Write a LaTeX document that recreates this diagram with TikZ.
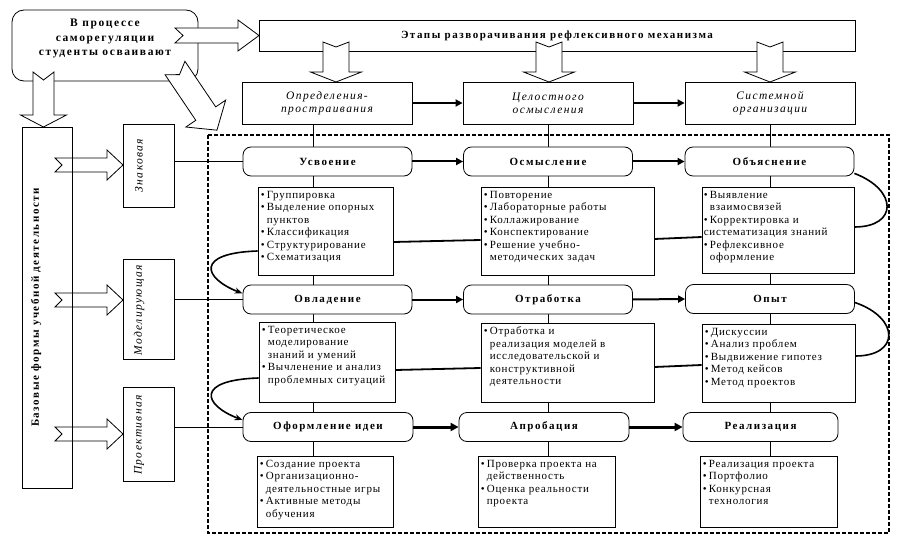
\documentclass[tikz,border=0pt]{standalone}
\usepackage{fontspec}
\setmainfont{Liberation Serif}
\newfontfamily\lstf[LetterSpace=7]{Liberation Serif}
\newfontfamily\hdrf[LetterSpace=14]{Liberation Serif}
\newfontfamily\itf[LetterSpace=12]{Liberation Serif}
\usetikzlibrary{arrows.meta,calc}
\pgfdeclarelayer{bg}
\pgfsetlayers{bg,main}
\newcommand\bl{\makebox[6pt][l]{\textbullet}}
\newcommand\ind{\hspace*{6pt}}
\newcommand\lsz{\fontsize{11pt}{12.5pt}\selectfont}
\tikzset{
  pics/barrow/.style n args={5}{code={
    \draw[fill=white,line width=0.8pt] (0,-#2) -- ({#1-#4},-#2) -- ({#1-#4},-#3) -- (#1,0) -- ({#1-#4},#3) -- ({#1-#4},#2) -- (0,#2) -- (#5,0) -- cycle;
  }}
}
\begin{document}
\begin{tikzpicture}[x=1pt,y=-1pt,
  thin/.style={line width=0.8pt},
  bx/.style={draw,fill=white,line width=0.8pt,inner sep=0pt},
  rnd/.style={bx,rounded corners=8pt,minimum width=169pt,minimum height=29pt},
  hd/.style={font={\hdrf\bfseries\fontsize{11pt}{13pt}\selectfont}},
  it/.style={font={\itf\itshape\fontsize{11.5pt}{13pt}\selectfont},align=center},
  lt/.style={font={\lstf\lsz},align=left,anchor=north west,inner sep=0pt},
  flow/.style={line width=2pt,-{Triangle[length=7pt,width=7pt]}},
  flowb/.style={line width=3pt,-{Triangle[length=8pt,width=8pt]}},
  link/.style={line width=1.8pt},
  loop/.style={line width=1.6pt},
  loopa/.style={line width=1.6pt,-{Stealth[length=8pt,width=6pt]}},
  dashbox/.style={line width=1.3pt,dash pattern=on 4pt off 2pt},
]
\useasboundingbox (0,0) rectangle (907,540);
\draw[dashbox] (208,135) rectangle (889,533);

% top-left box
\node[bx,rounded corners=12pt,minimum width=186pt,minimum height=71pt] (self) at (105,45.5) {};
\node[font={\hdrf\bfseries\fontsize{11.5pt}{14.5pt}\selectfont},align=center] (selft) at (105,38.5) {В процессе\\саморегуляции\\студенты осваивают};

% banner
\node[bx,minimum width=596pt,minimum height=31pt,hd] (stages) at (557,35.5) {Этапы разворачивания рефлексивного механизма};

% phases
\node[bx,minimum width=170pt,minimum height=42pt,it] (P1) at (327,103) {Определения-\\простраивания};
\node[bx,minimum width=170pt,minimum height=42pt,it] (P2) at (548,103) {Целостного\\осмысления};
\node[bx,minimum width=170pt,minimum height=42pt,it] (P3) at (770,103) {Системной\\организации};

% block arrows
\pic at (175,35.5) {barrow={84}{7.5}{15.5}{21}{8}};
\pic[rotate=-90] at (43.5,72) {barrow={55}{10.5}{23}{12}{8}};
\pic[rotate=-56] at (175,68) {barrow={75}{12}{24}{20}{8}};
\pic[rotate=-90] at (336,42) {barrow={40}{13}{25.5}{10}{5}};
\pic[rotate=-90] at (549,42) {barrow={40}{13}{25.5}{10}{5}};
\pic[rotate=-90] at (770,42) {barrow={40}{13}{25.5}{10}{5}};
\pic at (55,165) {barrow={68}{7}{15}{16}{7}};
\pic at (55,300) {barrow={68}{7}{15}{16}{7}};
\pic at (55,434) {barrow={68}{7}{15}{16}{7}};

% base forms
\node[draw,line width=0.8pt,inner sep=0pt,minimum width=50pt,minimum height=361pt] (base) at (47,307.5) {};
\node[hd,rotate=90] (baset) at (36,307.5) {Базовые формы учебной деятельности};
\node[bx,minimum width=51pt,minimum height=83pt] (F1) at (148.5,165.5) {};
\node[it,rotate=90] (F1t) at (139,165.5) {Знаковая};
\node[bx,minimum width=51pt,minimum height=100pt] (F2) at (148.5,309) {};
\node[it,rotate=90] (F2t) at (139,310) {Моделирующая};
\node[bx,minimum width=51pt,minimum height=94pt] (F3) at (148.5,434) {};
\node[it,rotate=90] (F3t) at (139,435) {Проективная};

% stage nodes
\node[rnd,hd] (C1) at (327.5,161.5) {Усвоение};
\node[rnd,hd] (C2) at (548,161.5) {Осмысление};
\node[rnd,hd] (C3) at (769.5,161.5) {Объяснение};
\node[rnd,hd] (R1) at (327.5,299.5) {Овладение};
\node[rnd,hd] (R2) at (548,299.5) {Отработка};
\node[rnd,hd] (R3) at (770,299) {Опыт};
\node[rnd,hd,minimum width=170pt] (D1) at (328,427) {Оформление идеи};
\node[rnd,hd,minimum width=170pt] (D2) at (544,427) {Апробация};
\node[rnd,hd,minimum width=155pt] (D3) at (760.5,427) {Реализация};

% list boxes
\node[bx,minimum width=135pt,minimum height=88pt] (L1) at (325.5,231) {};
\node[lt] (L1t) at ([shift={(3pt,-4pt)}]L1.north west) {\bl Группировка\\\bl Выделение опорных\\\ind пунктов\\\bl Классификация\\\bl Структурирование\\\bl Схематизация};
\node[bx,minimum width=173pt,minimum height=88pt] (L2) at (567.5,231) {};
\node[lt] (L2t) at ([shift={(3pt,-4pt)}]L2.north west) {\bl Повторение\\\bl Лабораторные работы\\\bl Коллажирование\\\bl Конспектирование\\\bl Решение учебно-\\\ind методических задач};
\node[bx,minimum width=152pt,minimum height=86pt] (L3) at (778,230) {};
\node[lt] (L3t) at ([shift={(2pt,-4pt)}]L3.north west) {\bl Выявление\\\ind взаимосвязей\\\bl Корректировка и\\систематизация знаний\\\bl Рефлексивное\\\ind оформление};

\node[bx,minimum width=136pt,minimum height=80pt] (M1) at (327,362) {};
\node[lt] (M1t) at ([shift={(3pt,-4pt)}]M1.north west) {\bl Теоретическое\\\ind моделирование\\\ind знаний и умений\\\bl Вычленение и анализ\\\ind проблемных ситуаций};
\node[bx,minimum width=173pt,minimum height=79pt] (M2) at (567.5,362.5) {};
\node[lt] (M2t) at ([shift={(3pt,-4pt)}]M2.north west) {\bl Отработка и\\\ind реализация моделей в\\\ind исследовательской и\\\ind конструктивной\\\ind деятельности};
\node[bx,minimum width=153pt,minimum height=78pt] (M3) at (778.5,363) {};
\node[lt] (M3t) at ([shift={(3pt,-4pt)}]M3.north west) {\bl Дискуссии\\\bl Анализ проблем\\\bl Выдвижение гипотез\\\bl Метод кейсов\\\bl Метод проектов};

\node[bx,minimum width=136pt,minimum height=71pt] (E1) at (325,491.5) {};
\node[lt] (E1t) at ([shift={(3pt,-4pt)}]E1.north west) {\bl Создание проекта\\\bl Организационно-\\\ind деятельностные игры\\\bl Активные методы\\\ind обучения};
\node[bx,minimum width=137pt,minimum height=71pt] (E2) at (546.5,491.5) {};
\node[lt] (E2t) at ([shift={(3pt,-4pt)}]E2.north west) {\bl Проверка проекта на\\\ind действенность\\\bl Оценка реальности\\\ind проекта};
\node[bx,minimum width=137pt,minimum height=71pt] (E3) at (768.5,491.5) {};
\node[lt] (E3t) at ([shift={(3pt,-4pt)}]E3.north west) {\bl Реализация проекта\\\bl Портфолио\\\bl Конкурсная\\\ind технология};

% background lines
\begin{pgfonlayer}{bg}
\coordinate (k1a) at (313,124); \coordinate (k1b) at (313,456);
\coordinate (k2a) at (548,124); \coordinate (k2b) at (548,456);
\coordinate (k3a) at (770,124); \coordinate (k3b) at (770,456);
\draw[thin] (k1a) -- (k1b);
\draw[thin] (k2a) -- (k2b);
\draw[thin] (k3a) -- (k3b);
\draw[thin] (C1.west -| F1.east) -- (C1.west);
\draw[thin] (R1.west -| F2.east) -- (R1.west);
\draw[thin] (D1.west -| F3.east) -- (D1.west);
\end{pgfonlayer}

% flows
\draw[flow] (P1.east) -- (P2.west);
\draw[flow] (P2.east) -- (P3.west);
\draw[flow] (C1.east) -- (C2.west);
\draw[flow] (C2.east) -- (C3.west);
\draw[flow] (R1.east) -- (R2.west);
\draw[flow] (R2.east) -- (R3.west);
\draw[flowb] (D1.east) -- (D2.west);
\draw[flowb] (D2.east) -- (D3.west);

% links between lists
\draw[link] ([yshift=-11pt]L1.east) -- ([yshift=-9pt]L2.west);
\draw[link] ([yshift=-8pt]L2.east) -- ([yshift=-7pt]L3.west);
\draw[link] ([yshift=-8pt]M1.east) -- ([yshift=-5.5pt]M2.west);
\draw[link] ([yshift=-4.5pt]M2.east) -- ([yshift=-2pt]M3.west);

% loops
\draw[loop] ([yshift=3pt]C3.south east) .. controls (898,190) and (898,227) .. ([yshift=3pt]L3.east);
\draw[loop] ([yshift=-3.5pt]R3.east) .. controls (900,318) and (900,356) .. ([yshift=7pt]M3.east);
\draw[loopa] ([yshift=-20pt]L1.west) .. controls (195,253) and (203,278) .. ([yshift=6pt]R1.west);
\draw[loopa] ([yshift=-16pt]M1.west) .. controls (195,380) and (203,405) .. ([yshift=7pt]D1.west);
\end{tikzpicture}
\end{document}
